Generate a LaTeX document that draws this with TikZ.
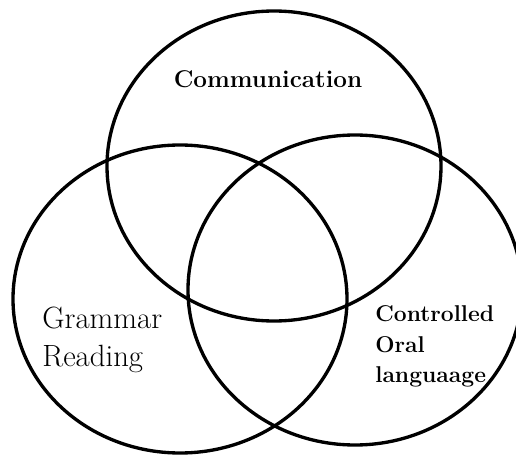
\documentclass[tikz,border=0pt]{standalone}
\usepackage{tikz}
\tikzset{
  ring/.style={draw=black, line width=1.9pt},
  lbl/.style={anchor=base west, inner sep=0pt, text=black}
}

\begin{document}
\begin{tikzpicture}
            \useasboundingbox                                 (0.00, 0.00) rectangle (10.32, 9.08);
            \draw[ring]                                       (5.48, 5.76) ellipse   (3.34 and 3.10);
            \draw[ring]                                       (3.60, 3.10) ellipse   (3.34 and 3.08);
            \draw[ring]                                       (7.10, 3.28) ellipse   (3.34 and 3.10);
            \node[anchor=base, inner sep=0pt, font=\bfseries\fontsize{13.8}{16}\selectfont]
                                                     (comm) at (5.36, 7.34) {Communication};
            \node[lbl, font=\fontsize{17.5}{21}\selectfont] (gram) at (0.84, 2.52) {Grammar};
            \node[lbl, font=\fontsize{17.5}{21}\selectfont] (read) at (0.84, 1.74) {Reading};
            \node[lbl, font=\bfseries\fontsize{13}{16}\selectfont] (ctrl) at (7.50, 2.64) {Controlled};
            \node[lbl, font=\bfseries\fontsize{13}{16}\selectfont] (oral) at (7.50, 2.02) {Oral};
            \node[lbl, font=\bfseries\fontsize{13}{16}\selectfont] (lang) at (7.50, 1.44) {languaage};
\end{tikzpicture}
\end{document}
